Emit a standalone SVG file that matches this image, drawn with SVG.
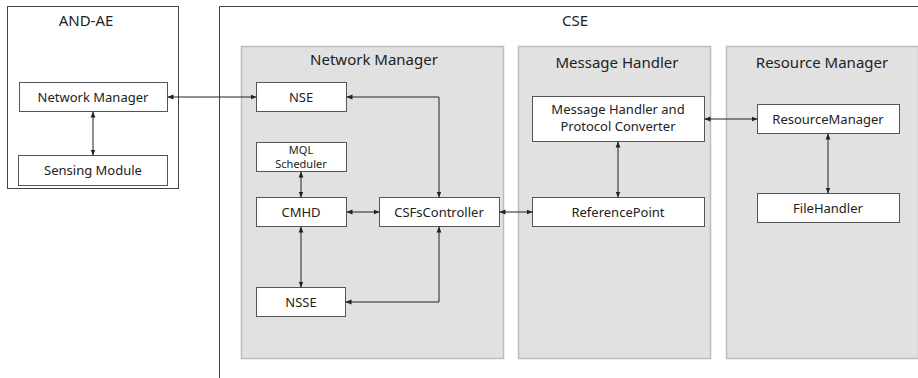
<svg xmlns="http://www.w3.org/2000/svg" width="918" height="378" viewBox="0 0 918 378">
<defs>
<marker id="ah" viewBox="0 0 10 10" refX="10" refY="5" markerWidth="6" markerHeight="6" orient="auto-start-reverse" markerUnits="userSpaceOnUse">
<path d="M0,1 L10,5 L0,9 z" fill="#222"/>
</marker>
<style>
text{font-family:"Noto Sans","Open Sans","Liberation Sans",sans-serif;fill:#222;}
.t{font-size:15px;text-anchor:middle;}
.n{font-size:13px;text-anchor:middle;}
.s{font-size:11px;text-anchor:middle;}
.box{fill:#fff;stroke:#555;stroke-width:1;}
.panel{fill:#e1e1e1;stroke:#bdbdbd;stroke-width:1.5;}
.frame{fill:none;stroke:#444;stroke-width:1;}
.c{fill:none;stroke:#222;stroke-width:1;marker-start:url(#ah);marker-end:url(#ah);}
</style>
</defs>
<g id="and-ae">
<rect class="frame" x="7.5" y="6.5" width="171" height="182"/>
<text class="t" x="86" y="26">AND-AE</text>
</g>
<g id="cse">
<path class="frame" d="M219.5,378 V6.5 H918"/>
<text class="t" x="575" y="26">CSE</text>
</g>
<g id="panel-network-manager">
<rect class="panel" x="241.5" y="46.5" width="262" height="312"/>
<text class="t" x="374" y="65">Network Manager</text>
</g>
<g id="panel-message-handler">
<rect class="panel" x="518.5" y="46.5" width="192" height="312"/>
<text class="t" x="617" y="68">Message Handler</text>
</g>
<g id="panel-resource-manager">
<rect class="panel" x="726.5" y="46.5" width="192" height="312"/>
<text class="t" x="822" y="68">Resource Manager</text>
</g>
<g id="and-network-manager">
<rect class="box" x="19.5" y="82.5" width="148" height="29"/>
<text class="n" x="93" y="101.5">Network Manager</text>
</g>
<g id="sensing-module">
<rect class="box" x="18.5" y="155.5" width="149" height="30"/>
<text class="n" x="93" y="175">Sensing Module</text>
</g>
<g id="nse">
<rect class="box" x="256.5" y="82.5" width="90" height="29"/>
<text class="n" x="301" y="101.5">NSE</text>
</g>
<g id="mql-scheduler">
<rect class="box" x="256.5" y="142.5" width="90" height="29"/>
<text class="s" x="301" y="154">MQL</text>
<text class="s" x="301" y="168">Scheduler</text>
</g>
<g id="cmhd">
<rect class="box" x="256.5" y="197.5" width="90" height="29"/>
<text class="n" x="301" y="216.5">CMHD</text>
</g>
<g id="csfscontroller">
<rect class="box" x="379.5" y="197.5" width="120" height="29"/>
<text class="n" x="439" y="216.5">CSFsController</text>
</g>
<g id="nsse">
<rect class="box" x="256.5" y="287.5" width="89" height="29"/>
<text class="n" x="301" y="306.5">NSSE</text>
</g>
<g id="mh-protocol-converter">
<rect class="box" x="532.5" y="96.5" width="172" height="45"/>
<text class="n" x="618" y="114">Message Handler and</text>
<text class="n" x="618" y="131">Protocol Converter</text>
</g>
<g id="referencepoint">
<rect class="box" x="532.5" y="197.5" width="172" height="29"/>
<text class="n" x="618" y="216.5">ReferencePoint</text>
</g>
<g id="resourcemanager">
<rect class="box" x="757.5" y="104.5" width="142" height="29"/>
<text class="n" x="828" y="123.5">ResourceManager</text>
</g>
<g id="filehandler">
<rect class="box" x="757.5" y="193.5" width="142" height="29"/>
<text class="n" x="828" y="212.5">FileHandler</text>
</g>
<g id="connectors">
<path class="c" d="M167.5,97 H256.5"/>
<path class="c" d="M93,111.5 V155.5"/>
<path class="c" d="M346.5,97 H439 V197.5"/>
<path class="c" d="M301,171.5 V197.5"/>
<path class="c" d="M346.5,212 H379.5"/>
<path class="c" d="M301,226.5 V287.5"/>
<path class="c" d="M439,226.5 V302 H345.5"/>
<path class="c" d="M499.5,212 H532.5"/>
<path class="c" d="M618,141.5 V197.5"/>
<path class="c" d="M704.5,119 H757.5"/>
<path class="c" d="M828,133.5 V193.5"/>
</g>
</svg>
